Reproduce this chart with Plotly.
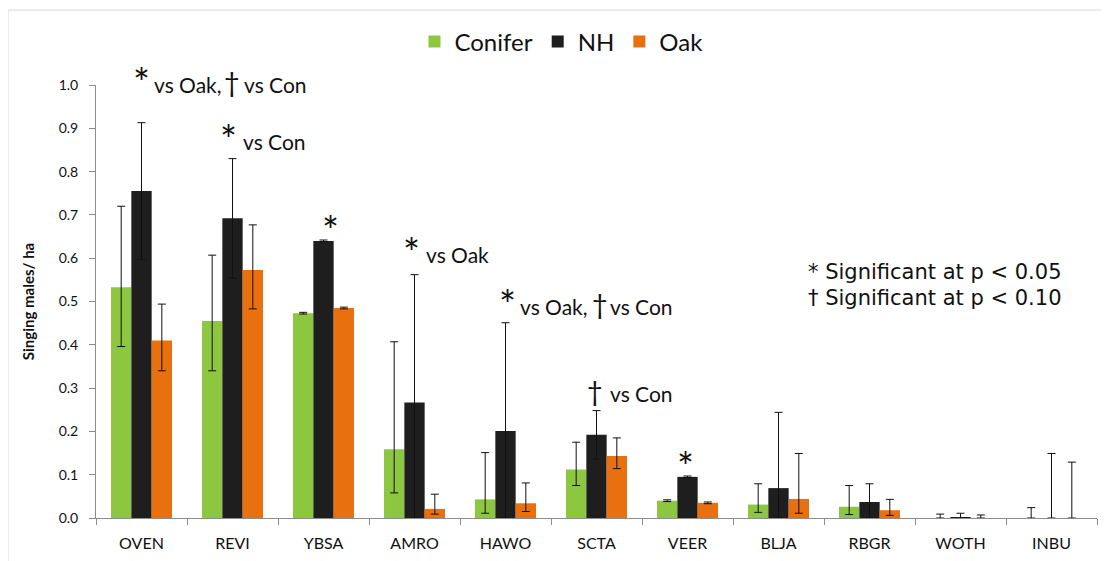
import plotly.graph_objects as go

categories = ["OVEN", "REVI", "YBSA", "AMRO", "HAWO", "SCTA", "VEER", "BLJA", "RBGR", "WOTH", "INBU"]

conifer = [0.533, 0.455, 0.473, 0.159, 0.043, 0.112, 0.040, 0.031, 0.026, 0.0, 0.0]
conifer_up = [0.187, 0.152, 0.002, 0.248, 0.108, 0.063, 0.002, 0.048, 0.049, 0.009, 0.024]
conifer_dn = [0.137, 0.115, 0.002, 0.101, 0.032, 0.037, 0.002, 0.018, 0.018, 0.0, 0.0]

nh = [0.755, 0.692, 0.640, 0.267, 0.201, 0.192, 0.095, 0.069, 0.037, 0.002, 0.0]
nh_up = [0.158, 0.138, 0.002, 0.295, 0.250, 0.056, 0.002, 0.175, 0.042, 0.009, 0.149]
nh_dn = [0.158, 0.138, 0.002, 0.267, 0.201, 0.056, 0.002, 0.069, 0.037, 0.002, 0.0]

oak = [0.410, 0.573, 0.485, 0.021, 0.034, 0.143, 0.035, 0.044, 0.018, 0.0, 0.0]
oak_up = [0.084, 0.104, 0.002, 0.034, 0.047, 0.042, 0.002, 0.105, 0.025, 0.007, 0.129]
oak_dn = [0.070, 0.090, 0.002, 0.012, 0.019, 0.029, 0.002, 0.033, 0.012, 0.0, 0.0]

y_ticks = [0.0, 0.1, 0.2, 0.3, 0.4, 0.5, 0.6, 0.7, 0.8, 0.9, 1.0]

# significance labels: category, baseline value, pieces of (symbol, symbol dx px, text, text dx px)
sig_labels = [
    ("OVEN", 0.977, [("*", 0, "vs Oak,", 10), ("\u2020", 90, "vs Con", 100)]),
    ("REVI", 0.845, [("*", -4, "vs Con", 8)]),
    ("YBSA", 0.634, [("*", 7, "", 0)]),
    ("AMRO", 0.584, [("*", -3, "vs Oak", 9)]),
    ("HAWO", 0.464, [("*", 2, "vs Oak,", 12), ("\u2020", 94, "vs Con", 102)]),
    ("SCTA", 0.263, [("\u2020", -2, "vs Con", 11)]),
    ("VEER", 0.090, [("*", -2, "", 0)]),
]
key_lines = ["* Significant at p < 0.05", "\u2020 Significant at p < 0.10"]
key_y = [0.568, 0.508]

FONT = "Lato, 'Noto Sans', sans-serif"
FONT2 = "'DejaVu Sans', 'Open Sans', sans-serif"
GREEN = "#8DC63F"
BLACK = "#1E1E1E"
ORANGE = "#E8700E"
INK = "#111111"

fig = go.Figure()

def add_series(name, vals, up, dn, color):
    fig.add_trace(go.Bar(
        name=name, x=categories, y=vals, marker=dict(color=color, line=dict(width=0)),
        error_y=dict(type="data", array=up, arrayminus=dn, symmetric=False,
                     color=INK, thickness=1, width=4),
    ))

add_series("Conifer", conifer, conifer_up, conifer_dn, GREEN)
add_series("NH", nh, nh_up, nh_dn, BLACK)
add_series("Oak", oak, oak_up, oak_dn, ORANGE)

annotations = []
for cat, yv, pieces in sig_labels:
    for sym, sdx, txt, tdx in pieces:
        if sym == "*":
            annotations.append(dict(
                x=cat, y=yv, xref="x", yref="y", text="*", showarrow=False,
                xanchor="center", yanchor="middle", xshift=sdx, yshift=12,
                font=dict(family=FONT, size=40, color=INK)))
        else:
            annotations.append(dict(
                x=cat, y=yv, xref="x", yref="y", text=sym, showarrow=False,
                xanchor="center", yanchor="bottom", xshift=sdx, yshift=-5,
                font=dict(family=FONT, size=27, color=INK)))
        if txt:
            annotations.append(dict(
                x=cat, y=yv, xref="x", yref="y", text=txt, showarrow=False,
                xanchor="left", yanchor="bottom", xshift=tdx, yshift=-4,
                font=dict(family=FONT, size=21, color=INK)))

for line, yv in zip(key_lines, key_y):
    annotations.append(dict(
        x=0.709, y=yv, xref="paper", yref="y", xanchor="left", yanchor="middle",
        text=line, showarrow=False,
        font=dict(family=FONT2, size=21, color=INK), align="left"))

W, H = 1101, 553
fig.update_layout(
    width=W, height=H,
    margin=dict(l=88, r=12, t=77, b=43, autoexpand=False),
    paper_bgcolor="white", plot_bgcolor="white",
    barmode="group", bargap=0.33, bargroupgap=0.0,
    font=dict(family=FONT, color=INK),
    showlegend=True,
    legend=dict(orientation="h", x=0.465, y=1 - 34 / H, xref="paper", yref="container",
                xanchor="center", yanchor="middle",
                font=dict(size=24, family=FONT, color=INK), itemwidth=30,
                bgcolor="rgba(0,0,0,0)"),
    annotations=annotations,
    shapes=[
        dict(type="line", xref="paper", yref="paper", x0=-0.0879, x1=1.02, y0=1.173, y1=1.173,
             line=dict(color="#D9D9D9", width=1)),
        dict(type="line", xref="paper", yref="paper", x0=-0.0879, x1=-0.0879, y0=1.173, y1=-0.12,
             line=dict(color="#D9D9D9", width=1)),
    ],
)
fig.update_xaxes(
    type="category", showline=True, linecolor="#8C8C8C", linewidth=1,
    ticks="outside", tickson="boundaries", ticklen=6, tickcolor="#8C8C8C",
    ticklabelstandoff=11, automargin=False,
    tickfont=dict(size=16, family=FONT, color=INK), showgrid=False,
)
fig.update_yaxes(
    range=[0, 1.0], tickvals=y_ticks, tickformat=".1f",
    showline=True, linecolor="#8C8C8C", linewidth=1, automargin=False,
    ticks="outside", ticklen=6, tickcolor="#8C8C8C", showgrid=False, zeroline=False,
    ticklabelstandoff=8,
    tickfont=dict(size=14, family=FONT, color=INK),
    title=dict(text="<b>Singing males/ ha</b>", font=dict(size=15, family=FONT, color=INK),
               standoff=20),
)
fig.update_traces(cliponaxis=False)

fig.write_html("out.html")
